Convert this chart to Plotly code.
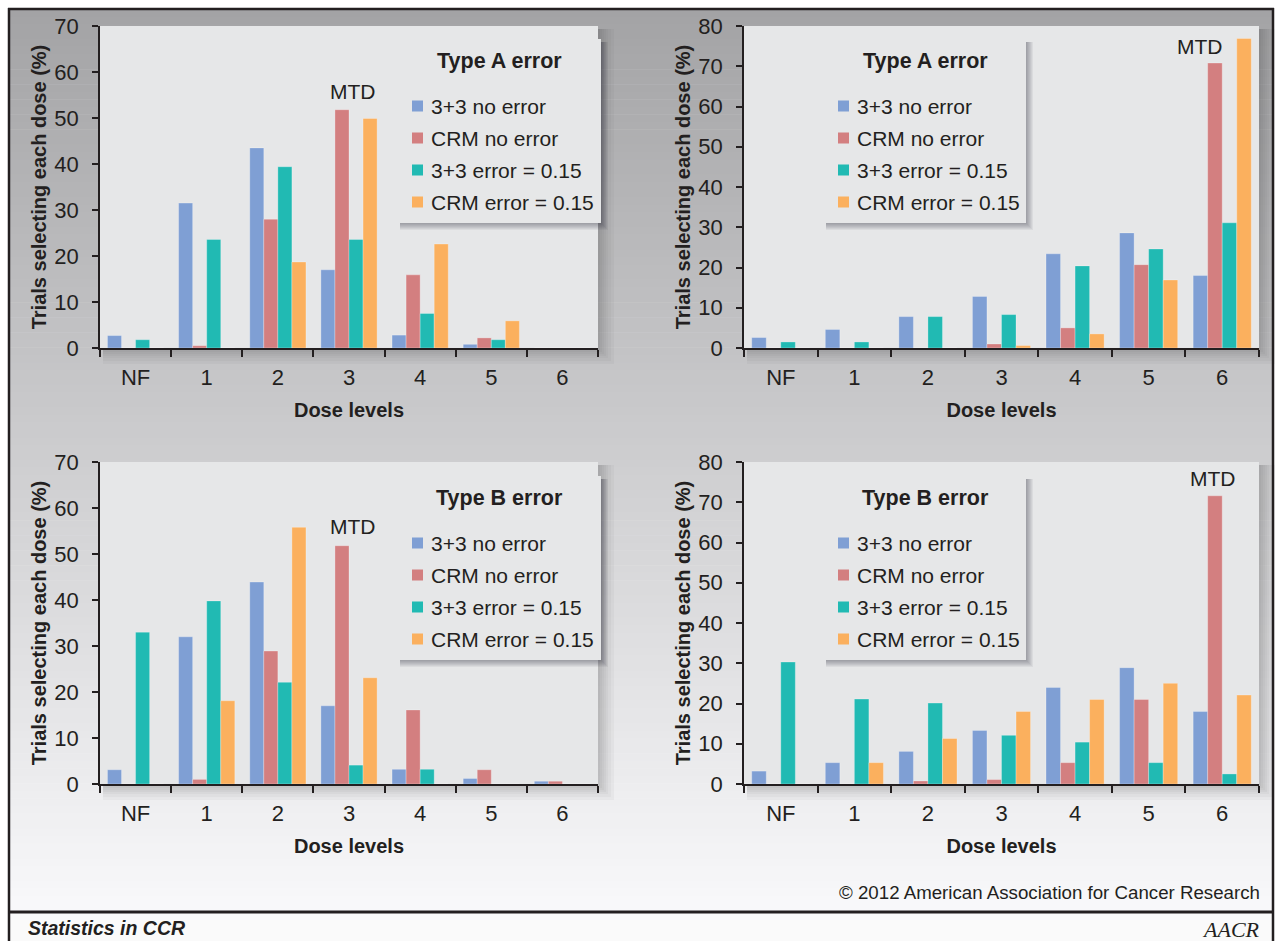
import plotly.graph_objects as go

# ---------------- data ----------------
categories = ["NF", "1", "2", "3", "4", "5", "6"]
series_names = ["3+3 no error", "CRM no error", "3+3 error = 0.15", "CRM error = 0.15"]
series_colors = ["#7f9fd4", "#d37f80", "#21bab3", "#fbb05e"]

# Type A error, MTD at dose 3 (top left)
a3_33_noerr = [2.7, 31.5, 43.5, 17.0, 2.8, 0.8, 0]
a3_crm_noerr = [0, 0.5, 28.0, 51.8, 15.9, 2.2, 0]
a3_33_err = [1.8, 23.6, 39.4, 23.6, 7.5, 1.8, 0]
a3_crm_err = [0, 0, 18.7, 49.9, 22.6, 5.9, 0]

# Type A error, MTD at dose 6 (top right)
a6_33_noerr = [2.6, 4.6, 7.8, 12.8, 23.4, 28.6, 18.0]
a6_crm_noerr = [0, 0, 0, 1.0, 5.0, 20.7, 70.8]
a6_33_err = [1.5, 1.5, 7.8, 8.3, 20.4, 24.6, 31.1]
a6_crm_err = [0, 0, 0, 0.6, 3.5, 16.9, 76.9]

# Type B error, MTD at dose 3 (bottom left)
b3_33_noerr = [3.1, 32.0, 43.9, 17.0, 3.2, 1.2, 0.6]
b3_crm_noerr = [0, 1.0, 28.9, 51.8, 16.1, 3.1, 0.6]
b3_33_err = [33.0, 39.8, 22.1, 4.1, 3.2, 0, 0]
b3_crm_err = [0, 18.1, 55.8, 23.1, 0, 0, 0]

# Type B error, MTD at dose 6 (bottom right)
b6_33_noerr = [3.2, 5.3, 8.1, 13.3, 24.0, 28.9, 18.0]
b6_crm_noerr = [0, 0, 0.75, 1.1, 5.3, 21.0, 71.6]
b6_33_err = [30.3, 21.1, 20.1, 12.1, 10.4, 5.3, 2.5]
b6_crm_err = [0, 5.3, 11.3, 18.0, 21.0, 25.0, 22.1]

panel_titles = ["Type A error", "Type A error", "Type B error", "Type B error"]
y_maxima = [70, 80, 70, 80]
y_title = "Trials selecting each dose (%)"
x_title = "Dose levels"
mtd_label = "MTD"
copyright_text = "© 2012 American Association for Cancer Research"
footer_text = "Statistics in CCR"
logo_text = "AACR"

panel_series = [
    [a3_33_noerr, a3_crm_noerr, a3_33_err, a3_crm_err],
    [a6_33_noerr, a6_crm_noerr, a6_33_err, a6_crm_err],
    [b3_33_noerr, b3_crm_noerr, b3_33_err, b3_crm_err],
    [b6_33_noerr, b6_crm_noerr, b6_33_err, b6_crm_err],
]

# ---------------- layout geometry (pixels) ----------------
W, H = 1280, 941
FONT = "Liberation Sans, Arial, Helvetica, sans-serif"
INK = "#231f20"


def px(x):
    return x / W


def py(y):
    return 1 - y / H


panels = [
    dict(x0=100, x1=598, y0=26, y1=348, leg=(398, 601, 39), mtd=(3.06, 55.7)),
    dict(x0=744, x1=1259, y0=26, y1=348, leg=(824, 1026, 39), mtd=(5.70, 74.8)),
    dict(x0=100, x1=598, y0=462, y1=784, leg=(398, 601, 476), mtd=(3.06, 55.9)),
    dict(x0=744, x1=1259, y0=462, y1=784, leg=(824, 1026, 476), mtd=(5.88, 76.0)),
]

fig = go.Figure()
shapes = []
annotations = []

# background gradient
bg_top, bg_bot = 9, 911
n_bands = 120
for i in range(n_bands):
    ya = bg_top + (bg_bot - bg_top) * i / n_bands
    yb = bg_top + (bg_bot - bg_top) * (i + 1) / n_bands + 0.6
    g = int(round(163 + ((ya + yb) / 2 - 10) * 0.095))
    g = max(0, min(250, g))
    shapes.append(dict(type="rect", xref="paper", yref="paper", layer="below",
                       x0=px(9), x1=px(1273), y0=py(ya), y1=py(yb),
                       fillcolor=f"rgb({g},{g},{g+2})", line=dict(width=0)))
# footer area
shapes.append(dict(type="rect", xref="paper", yref="paper", layer="below",
                   x0=px(9), x1=px(1273), y0=py(941), y1=py(912),
                   fillcolor="#fafafa", line=dict(width=0)))

for k, p in enumerate(panels):
    n = k + 1
    xa = "x" if n == 1 else f"x{n}"
    ya_ = "y" if n == 1 else f"y{n}"
    # plot shadow
    for s in [2, 4, 6, 8, 10, 13, 16]:
        shapes.append(dict(type="rect", xref="paper", yref="paper", layer="below",
                           x0=px(p["x0"] + 3), x1=px(p["x1"] + s), y0=py(p["y1"] + s), y1=py(p["y0"] + 3),
                           fillcolor="rgba(60,60,70,0.045)", line=dict(width=0)))
    # plot area
    shapes.append(dict(type="rect", xref="paper", yref="paper", layer="below",
                       x0=px(p["x0"]), x1=px(p["x1"]), y0=py(p["y1"]), y1=py(p["y0"]),
                       fillcolor="#e6e7e8", line=dict(width=0)))

    for vals, name, col in zip(panel_series[k], series_names, series_colors):
        fig.add_trace(go.Bar(x=categories, y=vals, name=name,
                             marker=dict(color=col, line=dict(width=0.6, color="rgba(255,255,255,0.45)")),
                             xaxis=xa, yaxis=ya_, showlegend=False))

    axis_common = dict(showline=True, linecolor=INK, linewidth=1.5, ticks="outside", tickcolor=INK,
                       tickwidth=1.5, showgrid=False, zeroline=False, automargin=False,
                       tickfont=dict(family=FONT, size=22, color=INK))
    fig.layout[f"xaxis{'' if n == 1 else n}"] = dict(
        axis_common, domain=[px(p["x0"]), px(p["x1"])], anchor=ya_, type="category",
        categoryorder="array", categoryarray=categories, tickson="boundaries", ticklen=7,
        range=[-0.5, 6.5], ticklabelstandoff=9,
        title=dict(text=f"<b>{x_title}</b>", font=dict(family=FONT, size=20, color=INK), standoff=14))
    fig.layout[f"yaxis{'' if n == 1 else n}"] = dict(
        axis_common, domain=[py(p["y1"]), py(p["y0"])], anchor=xa, range=[0, y_maxima[k]],
        dtick=10, ticklen=6, ticklabelstandoff=9,
        title=dict(text=f"<b>{y_title}</b>", font=dict(family=FONT, size=20, color=INK), standoff=2))

    # legend box
    lx0, lx1, lt = p["leg"]
    lb = lt + 184
    for s in [1, 2, 3, 4, 5, 6, 7]:
        shapes.append(dict(type="rect", xref="paper", yref="paper", layer="above",
                           x0=px(lx0 + 2), x1=px(lx1 + s), y0=py(lb + s), y1=py(lt + 3),
                           fillcolor="rgba(40,40,50,0.06)", line=dict(width=0)))
    shapes.append(dict(type="rect", xref="paper", yref="paper", layer="above",
                       x0=px(lx0), x1=px(lx1), y0=py(lb), y1=py(lt),
                       fillcolor="#e6e7e8", line=dict(width=0)))
    annotations.append(dict(xref="paper", yref="paper", x=px((lx0 + lx1) / 2), y=py(lt + 22),
                            text=f"<b>{panel_titles[k]}</b>", showarrow=False, xanchor="center",
                            yanchor="middle", font=dict(family=FONT, size=21.5, color=INK)))
    for j, (name, col) in enumerate(zip(series_names, series_colors)):
        yc = lt + 67 + 32 * j
        shapes.append(dict(type="rect", xref="paper", yref="paper", layer="above",
                           x0=px(lx0 + 14), x1=px(lx0 + 25), y0=py(yc + 5.5), y1=py(yc - 5.5),
                           fillcolor=col, line=dict(width=0)))
        annotations.append(dict(xref="paper", yref="paper", x=px(lx0 + 31), y=py(yc),
                                text=name, showarrow=False, xanchor="left", yanchor="middle",
                                font=dict(family=FONT, size=21, color=INK)))
    # MTD label
    mx, my = p["mtd"]
    annotations.append(dict(xref=xa, yref=ya_, x=mx, y=my, text=mtd_label, showarrow=False,
                            xanchor="center", yanchor="middle",
                            font=dict(family=FONT, size=21, color=INK)))

# frame
frame_col = "#231f20"
shapes += [
    dict(type="line", xref="paper", yref="paper", x0=px(9), x1=px(9), y0=py(8), y1=py(941),
         line=dict(color=frame_col, width=2.5), layer="above"),
    dict(type="line", xref="paper", yref="paper", x0=px(1273), x1=px(1273), y0=py(8), y1=py(941),
         line=dict(color=frame_col, width=2.5), layer="above"),
    dict(type="line", xref="paper", yref="paper", x0=px(8), x1=px(1274), y0=py(9), y1=py(9),
         line=dict(color=frame_col, width=2.5), layer="above"),
    dict(type="line", xref="paper", yref="paper", x0=px(8), x1=px(1274), y0=py(912), y1=py(912),
         line=dict(color=frame_col, width=3), layer="above"),
]

annotations += [
    dict(xref="paper", yref="paper", x=px(1262), y=py(892), text=copyright_text, showarrow=False,
         xanchor="right", yanchor="middle", font=dict(family=FONT, size=18.7, color=INK)),
    dict(xref="paper", yref="paper", x=px(26), y=py(928), text=f"<b><i>{footer_text}</i></b>",
         showarrow=False, xanchor="left", yanchor="middle", font=dict(family=FONT, size=19.5, color=INK)),
    dict(xref="paper", yref="paper", x=px(1262), y=py(929), text=f"<i>{logo_text}</i>", showarrow=False,
         xanchor="right", yanchor="middle",
         font=dict(family="Liberation Serif, DejaVu Serif, serif", size=22, color=INK)),
]

fig.update_layout(
    width=W, height=H, autosize=False, margin=dict(l=0, r=0, t=0, b=0, pad=0),
    paper_bgcolor="white", plot_bgcolor="rgba(0,0,0,0)",
    barmode="group", bargap=0.21, bargroupgap=0,
    shapes=shapes, annotations=annotations, showlegend=False,
    font=dict(family=FONT, color=INK),
)

fig.write_html("out.html", config={"displayModeBar": False, "responsive": False},
               post_script="document.body.style.margin='0';")
